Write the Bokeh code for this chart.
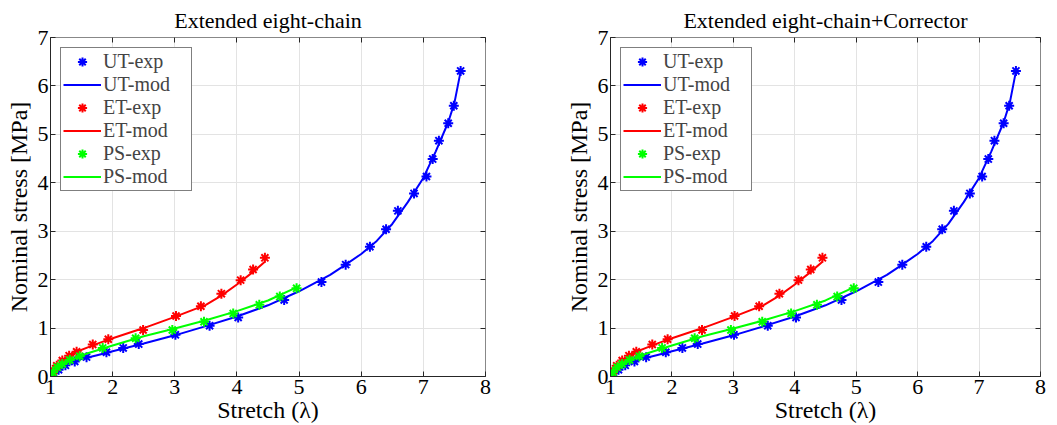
from bokeh.plotting import figure
from bokeh.models import LinearAxis, Legend, LegendItem, FixedTicker, Range1d
from bokeh.layouts import row
from bokeh.embed import file_html
from bokeh.resources import INLINE

# ---------------- data ----------------
titles = ["Extended eight-chain", "Extended eight-chain+Corrector"]
x_ticks = [1, 2, 3, 4, 5, 6, 7, 8]
y_ticks = [0, 1, 2, 3, 4, 5, 6, 7]

ut_exp_x = [1.0, 1.05, 1.13, 1.24, 1.39, 1.58, 1.90, 2.17, 2.42, 3.01, 3.56, 4.02, 4.76,
            5.36, 5.75, 6.14, 6.40, 6.59, 6.85, 7.05, 7.15, 7.25, 7.40, 7.49, 7.60]
ut_exp_y = [0.0, 0.07, 0.14, 0.23, 0.31, 0.40, 0.50, 0.59, 0.67, 0.86, 1.05, 1.22, 1.58,
            1.95, 2.31, 2.68, 3.04, 3.42, 3.78, 4.13, 4.49, 4.87, 5.23, 5.59, 6.31]
ut_mod_x = [1.0, 1.05, 1.1, 1.2, 1.3, 1.5, 1.75, 2.0, 2.5, 3.0, 3.5, 4.0, 4.5, 5.0, 5.25,
            5.5, 5.75, 6.0, 6.25, 6.5, 6.75, 7.0, 7.2, 7.4, 7.5, 7.6]
ut_mod_y = [0.0, 0.10, 0.16, 0.23, 0.28, 0.36, 0.44, 0.52, 0.68, 0.85, 1.04, 1.24, 1.47,
            1.76, 1.93, 2.10, 2.31, 2.53, 2.80, 3.15, 3.60, 4.10, 4.65, 5.25, 5.65, 6.30]

et_exp_x = [1.0, 1.05, 1.10, 1.19, 1.30, 1.42, 1.68, 1.93, 2.49, 3.02, 3.42, 3.75, 4.06, 4.26, 4.45]
et_exp_y = [0.0, 0.12, 0.22, 0.33, 0.43, 0.51, 0.66, 0.77, 0.96, 1.25, 1.45, 1.71, 1.99, 2.21, 2.45]
et_mod_x = [1.0, 1.05, 1.1, 1.2, 1.3, 1.4, 1.6, 1.8, 2.0, 2.5, 3.0, 3.5, 3.75, 4.0, 4.25, 4.45]
et_mod_y = [0.0, 0.12, 0.22, 0.33, 0.42, 0.50, 0.60, 0.70, 0.79, 1.00, 1.23, 1.48, 1.67, 1.90, 2.15, 2.37]

ps_exp_x = [1.0, 1.04, 1.11, 1.19, 1.31, 1.47, 1.84, 2.37, 2.96, 3.47, 3.94, 4.36, 4.69, 4.96]
ps_exp_y = [0.0, 0.09, 0.19, 0.26, 0.34, 0.42, 0.59, 0.79, 0.96, 1.13, 1.30, 1.48, 1.65, 1.82]
ps_mod_x = [1.0, 1.1, 1.2, 1.4, 1.6, 2.0, 2.5, 3.0, 3.5, 4.0, 4.5, 4.96]
ps_mod_y = [0.0, 0.20, 0.27, 0.38, 0.48, 0.64, 0.83, 0.99, 1.16, 1.35, 1.57, 1.84]

FONT = "Liberation Serif"
BLUE, RED, GREEN = "#0000ff", "#ff0000", "#00ff00"


def style_axis(ax, ticks, show_labels=True):
    ax.ticker = FixedTicker(ticks=ticks)
    ax.major_tick_in = 5
    ax.major_tick_out = 0
    ax.minor_tick_in = 0
    ax.minor_tick_out = 0
    ax.major_tick_line_color = "#262626"
    ax.axis_line_color = "#262626"
    ax.major_label_text_font = FONT
    ax.major_label_text_color = "black"
    ax.major_label_text_font_size = "22px" if show_labels else "0px"
    ax.axis_label_text_font = FONT
    ax.axis_label_text_font_style = "normal"
    ax.axis_label_text_font_size = "24px"
    ax.axis_label_text_color = "black"


def make_panel(title, width, left, right):
    p = figure(width=width, height=425, x_range=Range1d(1, 8), y_range=Range1d(0, 7),
               output_backend="svg", toolbar_location=None,
               min_border_left=left, min_border_right=right,
               min_border_top=34, min_border_bottom=49)
    p.title.text = title
    p.title.align = "center"
    p.title.text_font = FONT
    p.title.text_font_style = "normal"
    p.title.text_font_size = "22px"
    p.title.text_color = "black"
    p.outline_line_color = "#888888"
    p.background_fill_color = "white"
    p.border_fill_color = "white"

    style_axis(p.xaxis[0], x_ticks)
    style_axis(p.yaxis[0], y_ticks)
    p.xaxis.axis_label = "Stretch (λ)"
    p.yaxis.axis_label = "Nominal stress [MPa]"
    p.xaxis.major_label_standoff = 3
    p.yaxis.major_label_standoff = 2
    p.xaxis.axis_label_standoff = 0
    p.yaxis.axis_label_standoff = 3

    rax = LinearAxis()
    style_axis(rax, y_ticks, show_labels=False)
    rax.axis_line_color = None
    p.add_layout(rax, "right")
    tax = LinearAxis()
    style_axis(tax, x_ticks, show_labels=False)
    tax.axis_line_color = None
    p.add_layout(tax, "above")

    p.xgrid.ticker = FixedTicker(ticks=x_ticks)
    p.ygrid.ticker = FixedTicker(ticks=y_ticks)
    p.xgrid.grid_line_color = "#e3e3e3"
    p.ygrid.grid_line_color = "#e3e3e3"

    r1 = p.scatter(ut_exp_x, ut_exp_y, marker="asterisk", size=10, line_width=2, color=BLUE)
    r2 = p.line(ut_mod_x, ut_mod_y, line_width=2, color=BLUE)
    r3 = p.scatter(et_exp_x, et_exp_y, marker="asterisk", size=10, line_width=2, color=RED)
    r4 = p.line(et_mod_x, et_mod_y, line_width=2, color=RED)
    r5 = p.scatter(ps_exp_x, ps_exp_y, marker="asterisk", size=10, line_width=2, color=GREEN)
    r6 = p.line(ps_mod_x, ps_mod_y, line_width=2, color=GREEN)

    items = [LegendItem(label="UT-exp", renderers=[r1]),
             LegendItem(label="UT-mod", renderers=[r2]),
             LegendItem(label="ET-exp", renderers=[r3]),
             LegendItem(label="ET-mod", renderers=[r4]),
             LegendItem(label="PS-exp", renderers=[r5]),
             LegendItem(label="PS-mod", renderers=[r6])]
    leg = Legend(items=items, location="top_left", margin=10, padding=2, spacing=0,
                 glyph_width=38, glyph_height=23, label_height=23, label_width=86,
                 label_standoff=2,
                 label_text_font=FONT, label_text_font_size="20px",
                 border_line_color="black", border_line_width=1,
                 background_fill_color="white", background_fill_alpha=1.0)
    p.add_layout(leg)
    return p


p1 = make_panel(titles[0], 528, 50, 43)
p2 = make_panel(titles[1], 529, 82, 17)
layout = row(p1, p2)

open("out.html", "w").write(file_html(layout, INLINE))
